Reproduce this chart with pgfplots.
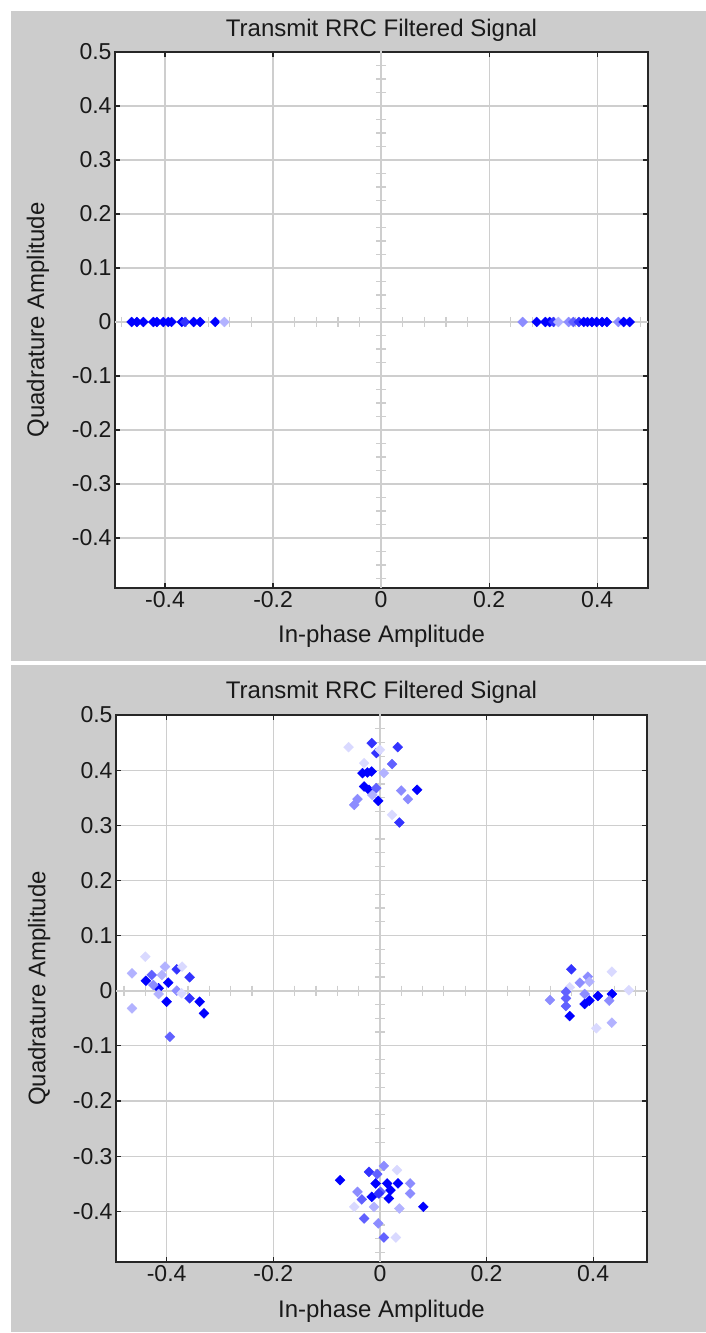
\documentclass[border=0pt]{standalone}
\usepackage{fontspec}
\setmainfont{Liberation Sans}
\usepackage{pgfplots}
\pgfplotsset{compat=1.18}
\usepackage{pgfplotstable}

\definecolor{figgray}{RGB}{204,204,204}
\definecolor{gridgray}{RGB}{206,206,206}

\pgfplotstableread{
x y c
-0.4617 0 a
-0.452 0 a
-0.44 0 a
-0.4216 0 a
-0.415 0 a
-0.403 0 a
-0.394 0 a
-0.388 0 a
-0.369 0 a
-0.363 0 b
-0.347 0 a
-0.335 0 a
-0.307 0 a
-0.290 0 e
0.262 0 d
0.288 0 a
0.304 0 a
0.312 0 a
0.319 0 b
0.328 0 e
0.347 0 d
0.356 0 c
0.366 0 b
0.375 0 a
0.382 0 a
0.390 0 a
0.399 0 a
0.409 0 a
0.418 0 a
0.439 0 d
0.449 0 a
0.460 0 a
}\topdata

\pgfplotstableread{
x y c
-0.0587 0.4417 f
-0.0154 0.449 b
-0.0068 0.431 b
0.0333 0.4417 b
0.0228 0.411 c
-0.0296 0.4127 f
0.0000 0.437 f
-0.0327 0.3946 a
-0.0235 0.3957 a
-0.0154 0.3975 a
0.0074 0.3946 e
-0.0296 0.3703 a
-0.0204 0.3643 a
-0.0068 0.3673 c
-0.0031 0.3443 a
0.040 0.363 d
0.0698 0.3643 a
0.0525 0.3474 d
-0.042 0.3474 d
-0.048 0.337 d
-0.0142 0.355 e
0.0228 0.319 f
0.0364 0.305 b
-0.440 0.0617 f
-0.465 0.0316 e
-0.428 0.0285 c
-0.439 0.018 a
-0.415 0.0044 a
-0.425 0.0103 d
-0.403 0.0436 e
-0.381 0.0388 b
-0.371 0.0436 f
-0.397 0.0145 a
-0.409 0.0285 e
-0.357 0.0243 b
-0.381 0.000 d
-0.372 -0.0047 f
-0.415 -0.006 e
-0.400 -0.020 a
-0.357 -0.0138 b
-0.338 -0.020 a
-0.330 -0.041 a
-0.465 -0.032 e
-0.394 -0.0835 c
0.359 0.0388 b
0.435 0.0345 f
0.390 0.0254 d
0.375 0.0145 d
0.393 0.0163 e
0.356 0.006 f
0.349 -0.002 c
0.384 -0.006 d
0.409 -0.0096 a
0.435 -0.006 a
0.319 -0.0169 d
0.349 -0.0138 c
0.393 -0.018 a
0.384 -0.024 a
0.430 -0.018 d
0.349 -0.0278 c
0.356 -0.046 a
0.435 -0.058 e
0.406 -0.068 f
0.467 0.001 f
0.0074 -0.3177 d
0.032 -0.3254 f
-0.0204 -0.3285 b
-0.005 -0.3327 c
-0.0747 -0.3436 a
-0.008 -0.3495 a
0.0136 -0.3495 a
0.034 -0.3495 a
0.0568 -0.3495 d
-0.042 -0.3648 d
0.0012 -0.3648 c
0.0198 -0.3617 a
0.0568 -0.3677 d
-0.034 -0.3786 c
-0.0154 -0.3739 a
0.0167 -0.3768 a
-0.0019 -0.3677 b
0.0815 -0.392 a
-0.048 -0.392 f
-0.011 -0.392 e
0.0364 -0.395 e
-0.0296 -0.413 c
-0.003 -0.422 d
0.0074 -0.4475 c
0.030 -0.4475 f
}\botdata

\pgfplotsset{
  rrc/.style={
    scale only axis,
    axis background/.style={fill=white},
    xtick={-0.4,-0.2,0,0.2,0.4},
    xticklabels={-0.4,-0.2,0,0.2,0.4},
    ytick={-0.4,-0.3,-0.2,-0.1,0,0.1,0.2,0.3,0.4,0.5},
    yticklabels={-0.4,-0.3,-0.2,-0.1,0,0.1,0.2,0.3,0.4,0.5},
    tick align=inside, tick pos=both,
    major tick length=5bp,
    grid=major,
    major grid style={gridgray, line width=1.2bp},
    axis line style={black!85, line width=1.5bp},
    every tick/.style={black!85, line width=1.2bp},
    tick label style={font=\fontsize{23bp}{27bp}\selectfont, text=black!90},
    label style={font=\fontsize{24bp}{28bp}\selectfont, text=black!90},
    title style={font=\fontsize{24bp}{28bp}\selectfont, text=black!90,
      at={(axis description cs:0.5,1.047)}, anchor=center, yshift=-9bp},
    xlabel style={at={(axis description cs:0.5,-0.0896)}, anchor=center},
    ylabel style={at={(axis description cs:-0.1445,0.5)}, anchor=center},
    title={Transmit RRC Filtered Signal},
    xlabel={In-phase Amplitude},
    ylabel={Quadrature Amplitude},
  },
  pts/.style={scatter, only marks, scatter src=explicit symbolic,
    mark=square*, mark size=3.5bp, mark options={rotate=45},
    scatter/classes={
      a={fill=blue, draw=blue},
      b={fill=blue!80, draw=blue!80},
      c={fill=blue!62, draw=blue!62},
      d={fill=blue!45, draw=blue!45},
      e={fill=blue!30, draw=blue!30},
      f={fill=blue!15, draw=blue!15}}},
  hcross/.style={only marks, mark=|, mark size=5bp, gridgray, mark options={line width=1.2bp}},
  vcross/.style={only marks, mark=-, mark size=5bp, gridgray, mark options={line width=1.2bp}},
}

\newcommand{\crosshair}{%
  \addplot[gridgray, line width=2bp] coordinates {(-0.6,0) (0.6,0)};
  \addplot[gridgray, line width=2bp] coordinates {(0,-0.6) (0,0.6)};
  \addplot[hcross] coordinates {(-0.48,0) (-0.44,0) (-0.40,0) (-0.36,0) (-0.32,0) (-0.28,0) (-0.24,0) (-0.20,0) (-0.16,0) (-0.12,0) (-0.08,0) (-0.04,0) (0,0) (0.04,0) (0.08,0) (0.12,0) (0.16,0) (0.20,0) (0.24,0) (0.28,0) (0.32,0) (0.36,0) (0.40,0) (0.44,0) (0.48,0)};
  \addplot[vcross] coordinates {(0,-0.475) (0,-0.45) (0,-0.425) (0,-0.4) (0,-0.375) (0,-0.35) (0,-0.325) (0,-0.3) (0,-0.275) (0,-0.25) (0,-0.225) (0,-0.2) (0,-0.175) (0,-0.15) (0,-0.125) (0,-0.1) (0,-0.075) (0,-0.05) (0,-0.025) (0,0) (0,0.025) (0,0.05) (0,0.075) (0,0.1) (0,0.125) (0,0.15) (0,0.175) (0,0.2) (0,0.225) (0,0.25) (0,0.275) (0,0.3) (0,0.325) (0,0.35) (0,0.375) (0,0.4) (0,0.425) (0,0.45) (0,0.475)};
}

\begin{document}
\begin{tikzpicture}
\fill[white] (0,0) rectangle (706bp,1333bp);
\fill[figgray] (11bp,672bp) rectangle (706bp,1322bp);
\fill[figgray] (11bp,1bp) rectangle (706bp,668bp);

\begin{axis}[rrc, at={(115bp,745bp)}, anchor=south west,
  width=533bp, height=536bp,
  xmin=-0.4926, xmax=0.494, ymin=-0.4926, ymax=0.5]
\crosshair
\addplot[pts] table[x=x, y=y, meta=c] {\topdata};
\end{axis}

\begin{axis}[rrc, at={(116bp,71bp)}, anchor=south west,
  width=531bp, height=547bp,
  xmin=-0.495, xmax=0.501, ymin=-0.492, ymax=0.5]
\crosshair
\addplot[pts] table[x=x, y=y, meta=c] {\botdata};
\end{axis}
\end{tikzpicture}
\end{document}
